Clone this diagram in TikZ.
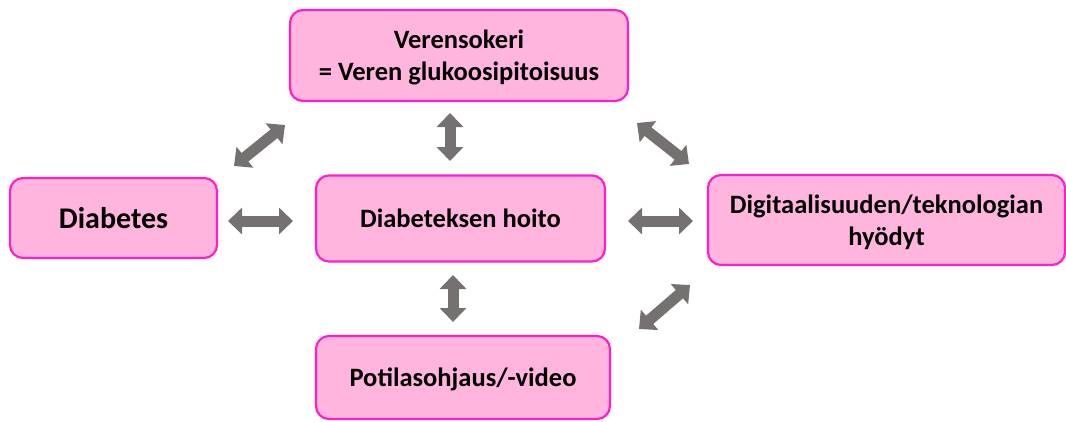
\documentclass[tikz,border=0pt]{standalone}
\usepackage{fontspec}
\setmainfont{Carlito}
\usetikzlibrary{arrows.meta}
\definecolor{boxfill}{RGB}{255,181,222}
\definecolor{boxline}{RGB}{255,30,200}
\definecolor{arrgray}{RGB}{118,113,113}
\tikzset{
  box/.style={draw=boxline, fill=boxfill, line width=2.2pt, rounded corners=13pt,
    inner sep=0pt, align=center, text depth=0pt, font=\fontsize{26.5}{32}\selectfont\bfseries},
  dblarrow/.style={draw=arrgray, line width=11pt,
    {Triangle[width=26pt,length=14pt]}-{Triangle[width=26pt,length=14pt]}},
}
\begin{document}
\begin{tikzpicture}[x=1pt,y=-1pt]
\useasboundingbox (0,0) rectangle (1066,421);
\node[box, minimum width=338pt, minimum height=91pt] (top) at (459,55.5) {Verensokeri\\= Veren glukoosipitoisuus};
\node[box, minimum width=207pt, minimum height=80pt, font=\fontsize{30}{36}\selectfont\bfseries] (diab) at (113.5,218) {Diabetes};
\node[box, minimum width=289pt, minimum height=86pt] (hoito) at (460.5,218.5) {Diabeteksen hoito};
\node[box, minimum width=357pt, minimum height=90pt] (digi) at (886.5,220) {Digitaalisuuden/teknologian\\hyödyt};
\node[box, minimum width=294pt, minimum height=83pt] (video) at (463,377.5) {Potilasohjaus/-video};
% arrow end points
\coordinate (a1s) at (234,166); \coordinate (a1e) at (285,125);
\coordinate (a2s) at (228,221); \coordinate (a2e) at (293,221);
\coordinate (a3s) at (450,113); \coordinate (a3e) at (450,161);
\coordinate (a4s) at (628,221); \coordinate (a4e) at (693,221);
\coordinate (a5s) at (637,123); \coordinate (a5e) at (689,164);
\coordinate (a6s) at (690,285); \coordinate (a6e) at (639,329);
\coordinate (a7s) at (453,275); \coordinate (a7e) at (453,322);
\draw[dblarrow] (a1s) -- (a1e);
\draw[dblarrow] (a2s) -- (a2e);
\draw[dblarrow] (a3s) -- (a3e);
\draw[dblarrow] (a4s) -- (a4e);
\draw[dblarrow] (a5s) -- (a5e);
\draw[dblarrow] (a6s) -- (a6e);
\draw[dblarrow] (a7s) -- (a7e);
\end{tikzpicture}
\end{document}
